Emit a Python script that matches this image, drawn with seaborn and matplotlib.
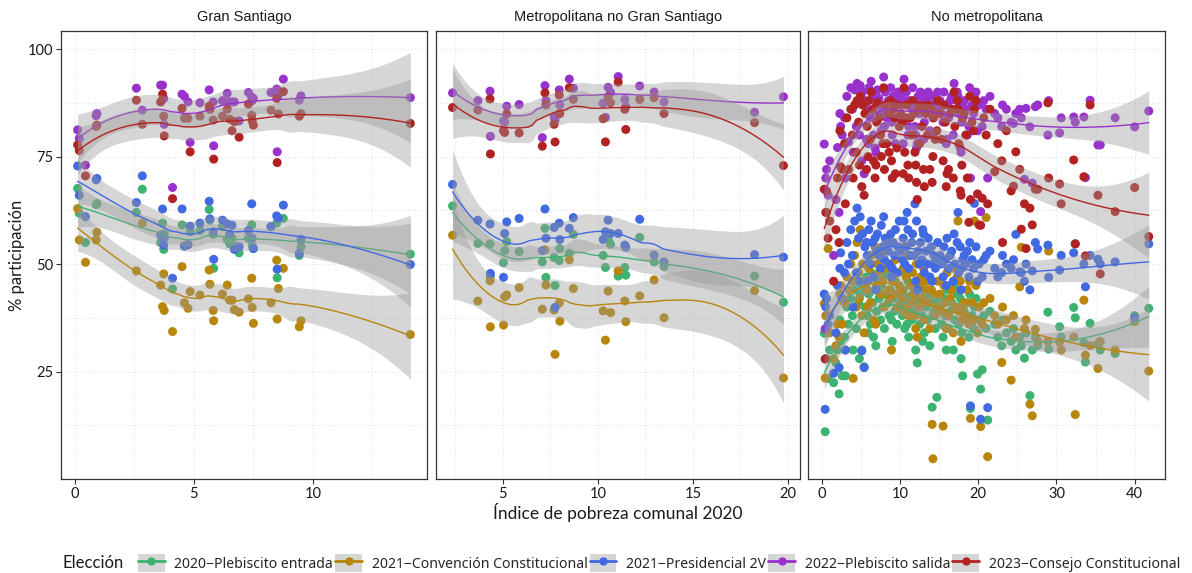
import numpy as np
import pandas as pd
import matplotlib
matplotlib.use("Agg")
import matplotlib.pyplot as plt
import seaborn as sns
from matplotlib.lines import Line2D
from matplotlib.patches import Patch
from matplotlib.legend_handler import HandlerTuple
from matplotlib.ticker import MultipleLocator

# ---------------- data ----------------
elecciones = ["2020\u2212Plebiscito entrada", "2021\u2212Convención Constitucional",
              "2021\u2212Presidencial 2V", "2022\u2212Plebiscito salida",
              "2023\u2212Consejo Constitucional"]
colores = ["#3CB371", "#B8860B", "#4169E1", "#9932CC", "#B22222"]
paneles = ["Gran Santiago", "Metropolitana no Gran Santiago", "No metropolitana"]

# Gran Santiago
x1 = [0.11, 0.18, 0.44, 0.92, 0.89, 2.58, 2.83, 3.60, 3.68, 3.73, 3.75, 4.10, 4.50, 4.60, 4.75, 4.84,
      5.25, 5.64, 5.67, 5.81, 5.83, 6.20, 6.40, 6.50, 6.60, 6.70, 6.90, 7.29, 7.43, 7.45, 7.50, 8.24,
      8.48, 8.50, 8.55, 8.76, 9.43, 9.50, 14.10]
g1 = [67.6, 61.8, 55.0, 64.1, 63.8, 62.0, 67.4, 55.0, 59.5, 53.4, 57.0, 44.2, 59.1, 54.2, 54.5, 57.5,
      57.8, 62.7, 60.2, 56.9, 49.0, 58.7, 55.7, 54.7, 56.0, 54.2, 52.6, 56.0, 59.1, 54.2, 53.6, 58.7,
      59.5, 46.8, 60.6, 60.6, 52.0, 54.0, 52.3]
au1 = [62.9, 55.6, 50.4, 57.4, 55.6, 48.4, 59.5, 45.1, 40.1, 47.7, 39.2, 34.3, 49.4, 41.0, 39.7, 43.6,
       42.8, 48.6, 45.3, 39.2, 36.8, 43.0, 45.1, 41.6, 41.6, 39.4, 38.8, 41.9, 46.7, 39.9, 36.2, 41.0,
       50.9, 37.2, 44.3, 49.0, 35.4, 36.8, 33.6]
b1 = [72.8, 66.0, 61.0, 69.9, 69.6, 64.3, 70.5, 56.7, 62.8, 54.4, 56.0, 46.7, 62.8, 54.2, 54.5, 58.8,
      59.5, 64.6, 60.5, 57.5, 51.1, 60.2, 59.3, 57.0, 59.0, 53.4, 54.0, 57.8, 64.0, 56.0, 53.6, 58.7,
      61.2, 48.8, 60.6, 63.7, 52.5, 55.7, 49.9]
p1 = [81.2, 79.2, 73.0, 85.0, 84.5, 90.9, 85.8, 91.6, 91.6, 88.5, 82.5, 67.8, 89.5, 89.0, 87.7, 78.3,
      87.5, 90.5, 86.0, 87.7, 77.5, 88.0, 89.7, 87.7, 87.7, 87.7, 83.3, 89.9, 88.8, 88.0, 88.5, 89.9,
      90.7, 76.1, 89.3, 93.0, 88.1, 89.1, 88.7]
r1 = [77.7, 76.4, 70.5, 82.3, 82.0, 88.1, 82.5, 87.7, 89.5, 84.4, 79.8, 65.2, 86.2, 83.9, 83.9, 76.1,
      84.4, 86.7, 86.0, 83.5, 74.4, 84.4, 86.0, 83.7, 81.0, 83.1, 79.5, 87.2, 84.6, 83.3, 82.3, 85.8,
      88.5, 73.6, 84.9, 90.1, 84.4, 85.0, 82.7]

# Metropolitana no Gran Santiago
x2 = [2.36, 3.69, 4.33, 4.35, 5.04, 5.10, 5.21, 5.86, 7.08, 7.22, 7.27, 7.70, 7.75, 7.97, 8.00, 8.50,
      8.71, 10.28, 10.40, 10.54, 10.67, 11.07, 11.42, 11.47, 12.20, 12.96, 13.48, 18.24, 19.76]
g2 = [63.5, 54.8, 54.7, 47.2, 50.3, 53.1, 55.2, 52.9, 50.5, 58.3, 46.9, 51.5, 45.0, 50.8, 53.6, 52.5,
      56.9, 52.0, 49.2, 55.8, 54.6, 47.2, 49.2, 47.4, 56.2, 50.5, 49.4, 47.2, 41.1]
au2 = [56.7, 41.4, 46.1, 35.4, 35.8, 42.4, 42.8, 44.5, 39.5, 53.3, 45.1, 39.3, 29.0, 40.9, 36.7, 51.0,
       44.3, 39.1, 32.3, 43.7, 38.7, 48.4, 41.4, 36.6, 42.6, 46.3, 37.5, 43.8, 23.5]
b2 = [68.5, 60.2, 59.3, 47.8, 46.9, 57.1, 59.8, 60.6, 53.1, 62.8, 56.0, 58.5, 39.9, 59.5, 55.7, 58.3,
      60.8, 55.7, 57.5, 60.2, 57.1, 57.1, 54.4, 53.9, 60.4, 52.1, 50.5, 52.2, 51.6]
p2 = [89.8, 88.0, 90.2, 79.7, 83.3, 83.0, 86.7, 87.1, 79.4, 91.5, 88.0, 84.3, 83.5, 90.5, 87.0, 93.0,
      90.9, 87.4, 84.1, 91.1, 89.9, 93.6, 88.3, 86.6, 91.4, 90.0, 87.7, 85.3, 88.9]
r2 = [86.4, 85.8, 88.4, 75.6, 81.0, 80.6, 84.9, 80.5, 77.4, 89.8, 87.0, 82.5, 78.4, 89.3, 85.0, 91.0,
      88.3, 83.8, 78.4, 88.9, 87.5, 92.3, 86.0, 81.3, 88.3, 88.7, 85.0, 82.9, 72.9]

# No metropolitana
x3 = [0.30, 0.42, 0.50, 0.60, 0.80, 1.00, 1.50, 1.80, 2.00, 2.20, 2.40,
      2.30, 2.60, 2.90, 3.00, 3.20, 3.40, 3.70, 3.90, 4.00, 4.20, 4.40, 4.50, 4.70, 4.80, 4.90,
      5.1, 5.4, 5.2, 5.5, 5.7, 5.8, 6.0, 6.2, 6.3, 6.5, 6.6, 6.8, 7.0, 7.1, 7.3, 7.5, 7.6, 7.8, 8.0,
      8.1, 8.3, 8.5, 8.6, 8.8, 9.0, 9.1, 9.3, 9.4, 9.6, 9.7, 9.9, 5.9, 6.9, 8.9, 7.9,
      10.1, 10.3, 10.4, 10.6, 10.8, 11.0, 11.1, 11.3, 11.5, 11.6, 11.8, 12.0, 12.1, 12.3, 12.5, 12.6,
      12.8, 13.0, 13.1, 13.3, 13.5, 13.6, 13.8, 14.0, 14.1, 14.2, 14.3, 14.5, 14.7, 14.8, 10.9, 12.9,
      11.9, 10.5, 12.2,
      15.1, 15.3, 15.5, 15.6, 15.8, 16.0, 16.2, 16.4, 16.6, 16.8, 17.0, 17.3, 17.4, 17.5, 17.7, 17.9,
      18.0, 18.2, 18.4, 18.6, 18.8, 19.0, 19.2, 19.4, 19.5, 19.7, 19.9, 15.9, 16.9, 18.9, 17.8,
      20.1, 20.3, 20.5, 20.7, 21.0, 21.2, 21.5, 22.1, 22.5, 23.0, 23.1, 23.6, 24.2, 24.5, 24.8,
      25.3, 25.5, 25.9, 26.1, 26.6, 26.9, 27.3, 27.6, 29.0, 28.9,
      30.4, 30.6, 32.2, 32.4, 33.5, 33.7, 34.3, 35.3, 35.6, 37.5, 40.0, 41.8]
g3 = [33.9, 11.0, 28.0, 35.0, 23.4, 30.0, 22.4, 27.0, 30.0, 19.8, 32.0,
      37, 24, 33, 24, 40, 36, 42, 38, 30, 44, 35, 46, 41, 28, 43,
      30, 26.1, 45, 40, 47, 38, 43, 36, 48, 41, 33, 44, 39, 46, 42, 37, 45, 40, 35,
      43, 48, 41, 38, 44, 32, 42, 39, 46, 36, 43, 40, 34, 31, 37, 47,
      41, 38, 44, 35, 42, 46, 33, 40, 37, 43, 39, 30, 45, 41, 36, 42,
      38, 44, 34, 40, 37, 43, 31, 41, 16.7, 38, 39, 35, 19, 42, 36, 32,
      45, 48, 27,
      40, 36, 33, 42, 38, 44, 35, 39, 41, 30, 37, 43, 40, 36, 42, 34,
      24, 39, 37, 41, 33, 16.4, 38, 35, 40, 42, 24.4, 30, 45, 43, 28,
      37, 20.9, 25.4, 38, 35, 13.7, 39, 36, 33, 31, 37, 34, 32, 35, 30,
      33, 31, 28.1, 34, 19.4, 30, 33, 31, 30.2, 38.8,
      35.4, 33, 39.9, 37.5, 31.7, 27.2, 36.2, 31.5, 30, 29.2, 38, 39.7]
au3 = [40.8, 23.5, 38.0, 62.0, 53.6, 34.0, 28.0, 31.0, 36.0, 33.0, 45.0,
       43, 36, 41, 30, 47, 44, 50, 46, 23.4, 52, 40, 55, 48, 42, 58,
       38, 34, 50, 46, 55, 44, 49, 41, 52, 47, 37, 54, 45, 50, 48, 43, 52, 46, 40,
       49, 56, 44, 42, 50, 46, 47, 43, 51, 40, 48, 45, 40, 36, 30, 53,
       44, 42, 49, 39, 47, 52, 38, 45, 41, 48, 43, 35, 50, 45, 40, 47,
       42, 49, 37, 44, 41, 46, 35, 44, 12.7, 4.7, 43, 38, 40, 46, 40, 46,
       38, 54, 33,
       43, 39, 12.3, 45, 41, 48, 38, 42, 44, 34, 40, 47, 60, 39, 46, 37,
       40, 41, 38, 44, 36, 14.1, 41, 37, 60, 45, 34, 35, 49, 46, 32,
       40, 12.2, 36, 41, 60.8, 5.2, 42, 38, 36, 27.1, 40, 37, 23, 38, 33,
       44.7, 53.9, 35, 37, 17.4, 14.7, 34.8, 32, 53, 32,
       31.8, 30, 33, 15, 41.6, 28.8, 31, 25.7, 32, 30, 36.6, 25.1]
b3 = [43.0, 16.2, 40.0, 42.0, 36.0, 38.0, 24.6, 34.0, 45.0, 25.9, 52.6,
      49, 42, 48, 30, 55, 50, 58, 52, 40, 60, 48, 63, 56, 46, 61,
      29.8, 25.9, 57, 54, 55, 52, 58, 50, 60, 55, 47, 56, 53, 57, 52, 49, 59, 54, 51,
      56, 55, 53, 50, 57, 49, 55, 52, 58, 48, 54, 60, 46, 44, 47, 61,
      53, 51, 56, 50, 54, 58, 49, 52, 55, 57, 52, 46, 60, 53, 50, 55,
      51, 57, 48, 53, 50, 56, 47, 54, 46, 50, 52, 49, 51, 55, 62, 58,
      64, 60, 44,
      52, 50, 47, 54, 51, 56, 49, 52, 53, 46, 50, 55, 62, 48, 54, 49,
      51, 52, 50, 53, 47, 17.0, 51, 49, 64.1, 54, 46, 45, 57, 55, 44,
      50, 13.9, 47, 51, 52, 16.6, 53, 49, 47, 48, 52, 50, 49, 51, 56.9,
      48.2, 48, 46, 50, 44, 48.4, 55, 53.5, 46.9, 54.4,
      48.6, 52, 52.6, 54.7, 50, 44.7, 52, 51.1, 50, 50.5, 37.5, 54.7]
p3 = [77.9, 34.9, 70.0, 72.0, 66.0, 74.0, 52.0, 65.0, 77.1, 62.0, 82.0,
      85, 80, 84, 70, 89, 78.4, 91, 86, 76, 90.5, 82, 92, 88, 80, 91.5,
      74, 71, 90, 88, 79, 86, 91, 84, 92.5, 89, 80, 77, 87, 90.5, 88.5, 85, 81, 86, 82,
      90, 84, 88, 85, 91, 80, 89, 87, 78, 84, 90, 88, 78, 76, 83, 93.5,
      89, 87, 78, 84, 90, 80, 82, 88, 86, 91, 87.5, 80, 77, 89, 85, 90,
      86, 79, 83, 88, 86, 90, 81, 89, 80, 84, 87, 85, 86, 90, 88, 89,
      82, 93, 78,
      88, 85, 83, 90, 87, 79, 84, 88, 89, 80, 86, 90, 89, 85, 77, 83,
      87, 88, 86, 80, 82, 70, 87, 85, 89, 90, 81, 78, 92, 91, 76,
      87, 62.2, 82, 88, 86, 70, 89, 85, 84, 82, 87, 86, 83, 82.7, 85,
      86, 84, 69.7, 86.2, 81.9, 68.8, 86.6, 87, 88, 80,
      80.5, 84, 84.2, 83, 84.2, 70.1, 88.1, 77.7, 77.7, 84, 81.9, 85.6]
r3 = [67.4, 27.9, 62.0, 67.0, 56.0, 60.0, 46.0, 58.0, 70.0, 55.0, 72.6,
      81, 72, 78, 64, 84, 72, 86, 80, 70, 87, 76, 88, 83, 73, 89,
      68, 66, 87, 85, 72, 82, 88, 79, 90, 86, 74, 70, 83, 87.5, 84, 80, 75, 78, 72,
      87, 78, 85, 76, 88, 70, 86, 84, 71, 77, 87, 82, 75, 73, 74, 91,
      85, 83, 71, 76, 87, 73, 70, 84, 80, 88, 85, 73, 69, 86, 78, 87,
      82, 72, 68, 85, 80, 87, 72, 86, 69, 75, 84, 79, 81, 88, 84, 86,
      76, 91, 65,
      85, 79, 74, 87, 83, 71, 72, 85, 86, 70, 82, 88, 86, 78, 67, 73,
      84, 85, 80, 70, 59.7, 65, 83, 81, 86, 88, 66.3, 68, 90, 89, 66,
      59.1, 59, 65.3, 84, 80, 64, 86, 71.5, 78, 74, 55, 81, 67, 68.1, 76.1,
      72, 58.1, 64, 53.6, 63, 59.1, 67.4, 67.4, 70, 87.5,
      68.6, 64, 74.2, 54.7, 70.3, 51.9, 87, 66, 47.7, 62.2, 67.8, 56.4]

datos = {
    paneles[0]: (x1, [g1, au1, b1, p1, r1]),
    paneles[1]: (x2, [g2, au2, b2, p2, r2]),
    paneles[2]: (x3, [g3, au3, b3, p3, r3]),
}

rows = []
for pan, (xs, series) in datos.items():
    for el, vals in zip(elecciones, series):
        if len(vals) != len(xs):
            raise ValueError(f"{pan} {el}: {len(vals)} vs {len(xs)}")
        for xv, yv in zip(xs, vals):
            rows.append((pan, el, xv, yv))
df = pd.DataFrame(rows, columns=["zona", "eleccion", "pobreza", "participacion"])


# ---------------- loess (like R's loess, span 0.75, degree 2) ----------------
def t975(dfree):
    z = 1.959964
    return (z + (z**3 + z) / (4 * dfree) + (5 * z**5 + 16 * z**3 + 3 * z) / (96 * dfree**2)
            + (3 * z**7 + 19 * z**5 + 17 * z**3 - 15 * z) / (384 * dfree**3))


def loess(x, y, xg, span=0.75):
    x = np.asarray(x, float)
    y = np.asarray(y, float)
    n = len(x)
    q = int(np.floor(n * span))

    def op(x0):
        d = np.abs(x - x0)
        h = max(np.sort(d)[q - 1], 1e-9)
        u = d / h
        w = np.where(u < 1, (1 - u**3) ** 3, 0.0)
        X = np.column_stack([np.ones(n), x - x0, (x - x0) ** 2])
        XtW = X.T * w
        return (np.linalg.pinv(XtW @ X) @ XtW)[0]

    Lg = np.array([op(v) for v in xg])
    Ld = np.array([op(v) for v in x])
    fit = Lg @ y
    R = np.eye(n) - Ld
    RtR = R.T @ R
    d1 = np.trace(RtR)
    d2 = np.trace(RtR @ RtR)
    s = np.sqrt(np.sum((R @ y) ** 2) / d1)
    t = t975(d1**2 / d2)
    se = s * np.sqrt(np.sum(Lg**2, axis=1))
    return fit, fit - t * se, fit + t * se


# ---------------- figure ----------------
sns.set_theme(style="white")
plt.rcParams["font.family"] = ["Lato", "DejaVu Sans"]

W, H = 1192, 573
fig = plt.figure(figsize=(W / 100, H / 100), dpi=100)
bounds = [(61, 427), (436, 800), (808, 1165)]
top_px, bot_px = 31, 479
majors = [5, 5, 10]

pal = dict(zip(elecciones, colores))
for i, pan in enumerate(paneles):
    l, r = bounds[i]
    ax = fig.add_axes([l / W, 1 - bot_px / H, (r - l) / W, (bot_px - top_px) / H])
    d = df[df.zona == pan]
    sns.scatterplot(data=d, x="pobreza", y="participacion", hue="eleccion",
                    hue_order=elecciones, palette=pal, s=42, linewidth=0,
                    legend=False, ax=ax, zorder=2)
    for el in elecciones:
        de = d[d.eleccion == el]
        xg = np.linspace(de.pobreza.min(), de.pobreza.max(), 80)
        fit, lo, hi = loess(de.pobreza.values, de.participacion.values, xg)
        ax.fill_between(xg, lo, hi, color="#999999", alpha=0.4, linewidth=0, zorder=3)
        ax.plot(xg, fit, color=pal[el], lw=1.0, zorder=3)

    xmin, xmax = d.pobreza.min(), d.pobreza.max()
    pad = 0.05 * (xmax - xmin)
    ax.set_xlim(xmin - pad, xmax + pad)
    ax.set_ylim(0, 104.2)
    ax.xaxis.set_major_locator(MultipleLocator(majors[i]))
    ax.xaxis.set_minor_locator(MultipleLocator(majors[i] / 2))
    ax.set_yticks([25, 50, 75, 100])
    ax.set_yticks([12.5, 37.5, 62.5, 87.5], minor=True)
    ax.grid(which="both", color="#E3E3E3", linestyle=(0, (1, 2)), linewidth=0.8)
    ax.set_axisbelow(True)
    for sp in ax.spines.values():
        sp.set_color("#333333")
        sp.set_linewidth(0.9)
    ax.tick_params(which="major", direction="out", length=3.5, width=0.8, color="#333333",
                   labelsize=10.5, labelcolor="#1a1a1a", bottom=True, left=True, pad=2)
    ax.tick_params(which="minor", length=0)
    if i > 0:
        ax.tick_params(axis="y", which="both", left=False, labelleft=False)
    ax.set_xlabel("")
    ax.set_ylabel("")
    ax.set_title(pan, fontsize=10.5, family=["Liberation Sans", "DejaVu Sans"],
                 color="#1a1a1a", pad=7)

fig.text(17 / W, 1 - 255 / H, "% participación", rotation=90, ha="center", va="center",
         fontsize=12, color="#1a1a1a")
fig.text(618 / W, 1 - 512 / H, "Índice de pobreza comunal 2020", ha="center", va="center",
         fontsize=12.5, color="#1a1a1a")

# legend
fig.text(63 / W, 1 - 563 / H, "Elección", ha="left", va="center", fontsize=12, color="#1a1a1a")
handles = [(Patch(facecolor="#D6D6D6", edgecolor="none"),
            Line2D([0], [0], color=c, lw=2, marker="o", ms=5)) for c in colores]
fig.legend(handles, elecciones, handler_map={tuple: HandlerTuple(ndivide=1)},
           loc="center left", bbox_to_anchor=(138 / W, 1 - 563 / H), ncol=5, frameon=False,
           handlelength=1.9, handleheight=1.6, handletextpad=0.7, columnspacing=0.15,
           borderpad=0, borderaxespad=0,
           prop={"family": ["Noto Sans", "DejaVu Sans"], "size": 10.1})

fig.savefig("out.png", dpi=100)
